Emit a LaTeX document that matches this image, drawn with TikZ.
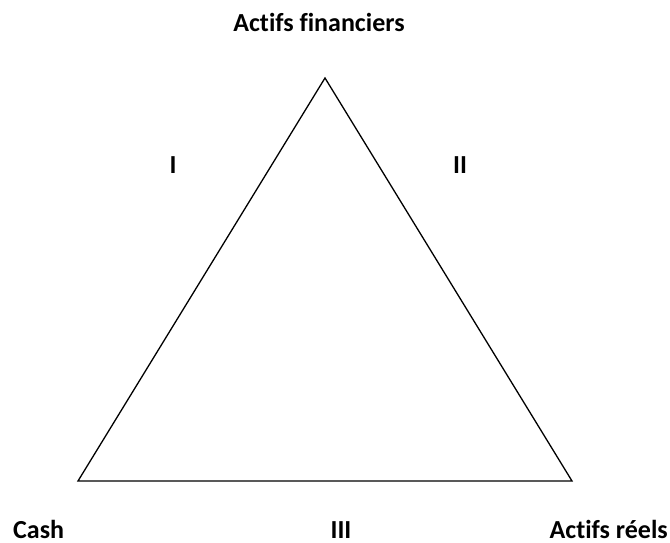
\documentclass[tikz,border=0pt]{standalone}
\usepackage{fontspec}
\setmainfont{Carlito}[Ligatures={NoCommon}]
\begin{document}
\begin{tikzpicture}[x=1pt,y=1pt,
  lbl/.style={font=\fontsize{26}{30}\selectfont\bfseries, inner sep=0pt, anchor=base}]
\useasboundingbox (0,0) rectangle (670,542);
\coordinate (top) at (325,464);
\coordinate (bl) at (78,61);
\coordinate (br) at (572,61);
\draw[line width=1.3pt, line join=miter] (top) -- (bl) -- (br) -- cycle;
\node[lbl] (af) at (319,510) {Actifs financiers};
\node[lbl] (i) at (173,368) {I};
\node[lbl] (ii) at (460,368) {II};
\node[lbl, anchor=base west] (cash) at (13,4) {Cash};
\node[lbl] (iii) at (341,4) {III};
\node[lbl, anchor=base east] (ar) at (668,4) {Actifs réels};
\end{tikzpicture}
\end{document}
